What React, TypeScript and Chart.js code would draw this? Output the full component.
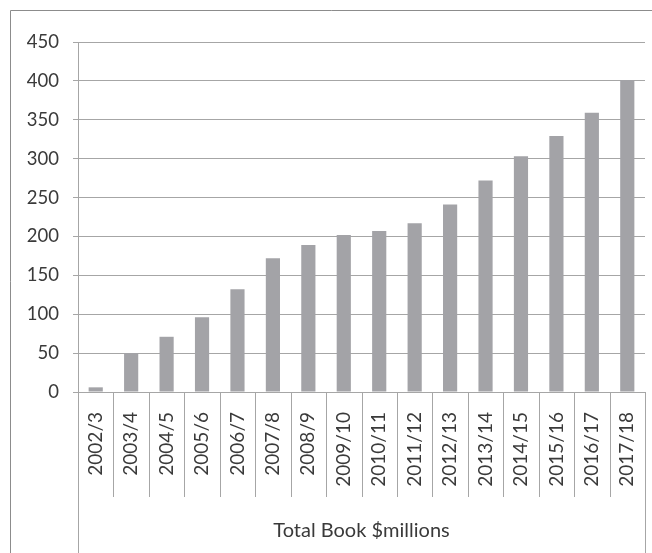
import React, { useEffect, useRef } from "react";
import { Chart, registerables } from "chart.js";

Chart.register(...registerables);

const categories = [
  "2002/3", "2003/4", "2004/5", "2005/6", "2006/7", "2007/8", "2008/9", "2009/10",
  "2010/11", "2011/12", "2012/13", "2013/14", "2014/15", "2015/16", "2016/17", "2017/18",
];
const totalBook = [6, 50, 71, 96, 132, 172, 189, 202, 207, 217, 241, 272, 303, 329, 359, 401];
const yMin = 0;
const yMax = 450;
const yStep = 50;
const axisTitle = "Total Book $millions";

const FONT = "Lato, 'Open Sans', sans-serif";
const TEXT = "#3a3a3a";
const LINE = "#a6a6a6";
const FRAME = "#8c8c8c";
const BAR = "#a3a3a7";

const framePlugin = {
  id: "excelFrame",
  afterDraw(chart: any) {
    const ctx = chart.ctx;
    const xs = chart.scales.x;
    const area = chart.chartArea;
    const H = chart.height;
    const W = chart.width;
    const n = categories.length;
    const step = xs.getPixelForValue(1) - xs.getPixelForValue(0);
    ctx.save();
    ctx.lineWidth = 1;
    ctx.strokeStyle = FRAME;
    ctx.beginPath();
    ctx.moveTo(10.5, H);
    ctx.lineTo(10.5, 10.5);
    ctx.lineTo(W, 10.5);
    ctx.stroke();
    ctx.strokeStyle = LINE;
    ctx.beginPath();
    for (let i = 0; i <= n; i++) {
      const x = Math.round(xs.getPixelForValue(i) - step / 2) + 0.5;
      const endY = i === 0 || i === n ? H : area.bottom + 105;
      ctx.moveTo(x, area.bottom);
      ctx.lineTo(x, endY);
    }
    ctx.stroke();
    ctx.restore();
  },
};

export default function App() {
  const ref = useRef<HTMLCanvasElement | null>(null);

  useEffect(() => {
    if (!ref.current) return;
    const chart = new Chart(ref.current, {
      type: "bar",
      data: {
        labels: categories,
        datasets: [
          {
            label: axisTitle,
            data: totalBook,
            backgroundColor: BAR,
            borderWidth: 0,
            categoryPercentage: 1,
            barPercentage: 0.4,
          },
        ],
      },
      options: {
        responsive: false,
        animation: false,
        layout: { padding: { left: 10, top: 42, right: 7, bottom: 0 } },
        plugins: {
          legend: { display: false },
          tooltip: { enabled: false },
        },
        scales: {
          x: {
            afterFit(scale: any) {
              scale.height = 161;
              scale.paddingLeft = 0;
              scale.paddingRight = 0;
            },
            grid: { display: false, drawTicks: false },
            border: { display: false },
            ticks: {
              autoSkip: false,
              minRotation: 90,
              maxRotation: 90,
              padding: 20,
              color: TEXT,
              font: { family: FONT, size: 19 },
            },
            title: {
              display: true,
              text: axisTitle,
              color: TEXT,
              font: { family: FONT, size: 20 },
              padding: { top: 0, bottom: 10 },
            },
          },
          y: {
            min: yMin,
            max: yMax,
            afterFit(scale: any) {
              scale.width = 68;
            },
            grid: { color: LINE, tickLength: 5, drawTicks: true, lineWidth: 1 },
            border: { display: true, color: LINE },
            ticks: {
              stepSize: yStep,
              padding: 14,
              color: TEXT,
              font: { family: FONT, size: 18.5 },
            },
          },
        },
      },
      plugins: [framePlugin],
    });
    return () => chart.destroy();
  }, []);

  return (
    <div style={{ position: "fixed", left: 0, top: 0, width: 652, height: 553, background: "#fff" }}>
      <canvas ref={ref} width={652} height={553} style={{ display: "block" }} />
    </div>
  );
}
